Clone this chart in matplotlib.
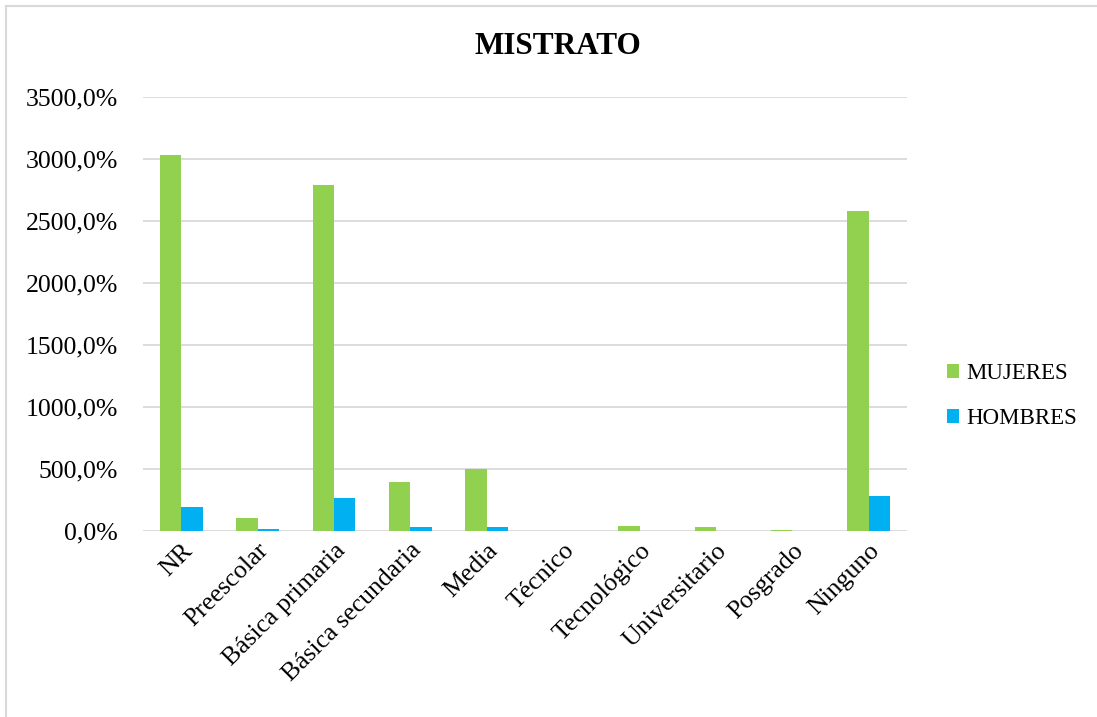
import numpy as np
import matplotlib
matplotlib.use('Agg')
import matplotlib.pyplot as plt
from matplotlib.lines import Line2D
from matplotlib.ticker import FuncFormatter

plt.rcParams['font.family'] = ['Liberation Serif', 'DejaVu Serif']

# Datos
categorias = ['NR', 'Preescolar', 'Básica primaria', 'Básica secundaria', 'Media',
              'Técnico', 'Tecnológico', 'Universitario', 'Posgrado', 'Ninguno']
mujeres = [3030, 105, 2787, 395, 497, 0, 40, 30, 8, 2580]
hombres = [191, 16, 266, 30, 32, 0, 0, 0, 0, 282]

COR_MUJERES = '#92D050'
COR_HOMBRES = '#00B0F0'
COR_GRID = '#D9D9D9'

W, H = 1097, 717
fig = plt.figure(figsize=(W / 100, H / 100), dpi=100)
ax = fig.add_axes([143 / W, 1 - 531 / H, (907 - 143) / W, (531 - 97) / H])

x = np.arange(len(categorias))
ancho = 0.28
ax.bar(x - ancho / 2, mujeres, ancho, color=COR_MUJERES, label='MUJERES', zorder=3)
ax.bar(x + ancho / 2, hombres, ancho, color=COR_HOMBRES, label='HOMBRES', zorder=3)

ax.set_xlim(-0.5, len(categorias) - 0.5)
ax.set_ylim(0, 3500)
ax.set_yticks(np.arange(0, 3501, 500))
ax.yaxis.set_major_formatter(FuncFormatter(lambda v, p: f'{v:.1f}%'.replace('.', ',')))
ax.grid(axis='y', color=COR_GRID, linewidth=1.3, zorder=0)
for lado in ['top', 'right', 'left', 'bottom']:
    ax.spines[lado].set_visible(False)
ax.tick_params(axis='both', length=0, labelsize=18.5, colors='black')
ax.tick_params(axis='y', pad=18)
ax.tick_params(axis='x', pad=6)
ax.set_xticks(x)
ax.set_xticklabels(categorias, rotation=45, ha='right', rotation_mode='anchor')

fig.text(558 / W, 1 - 47 / H, 'MISTRATO', ha='center', va='center',
         fontsize=22.5, fontweight='bold')

ax.legend(loc='center left', bbox_to_anchor=(926 / W, 1 - 396 / H),
          bbox_transform=fig.transFigure, frameon=False, fontsize=16.5,
          handlelength=0.55, handleheight=0.55, handletextpad=0.3,
          labelspacing=1.05)

# borde del area del grafico (solo se ve arriba y a la izquierda)
fig.add_artist(Line2D([6 / W, 6 / W], [0, 1 - 6 / H], color=COR_GRID, linewidth=1.5))
fig.add_artist(Line2D([6 / W, 1], [1 - 6 / H, 1 - 6 / H], color=COR_GRID, linewidth=1.5))

fig.savefig('out.png', dpi=100, facecolor='white')
